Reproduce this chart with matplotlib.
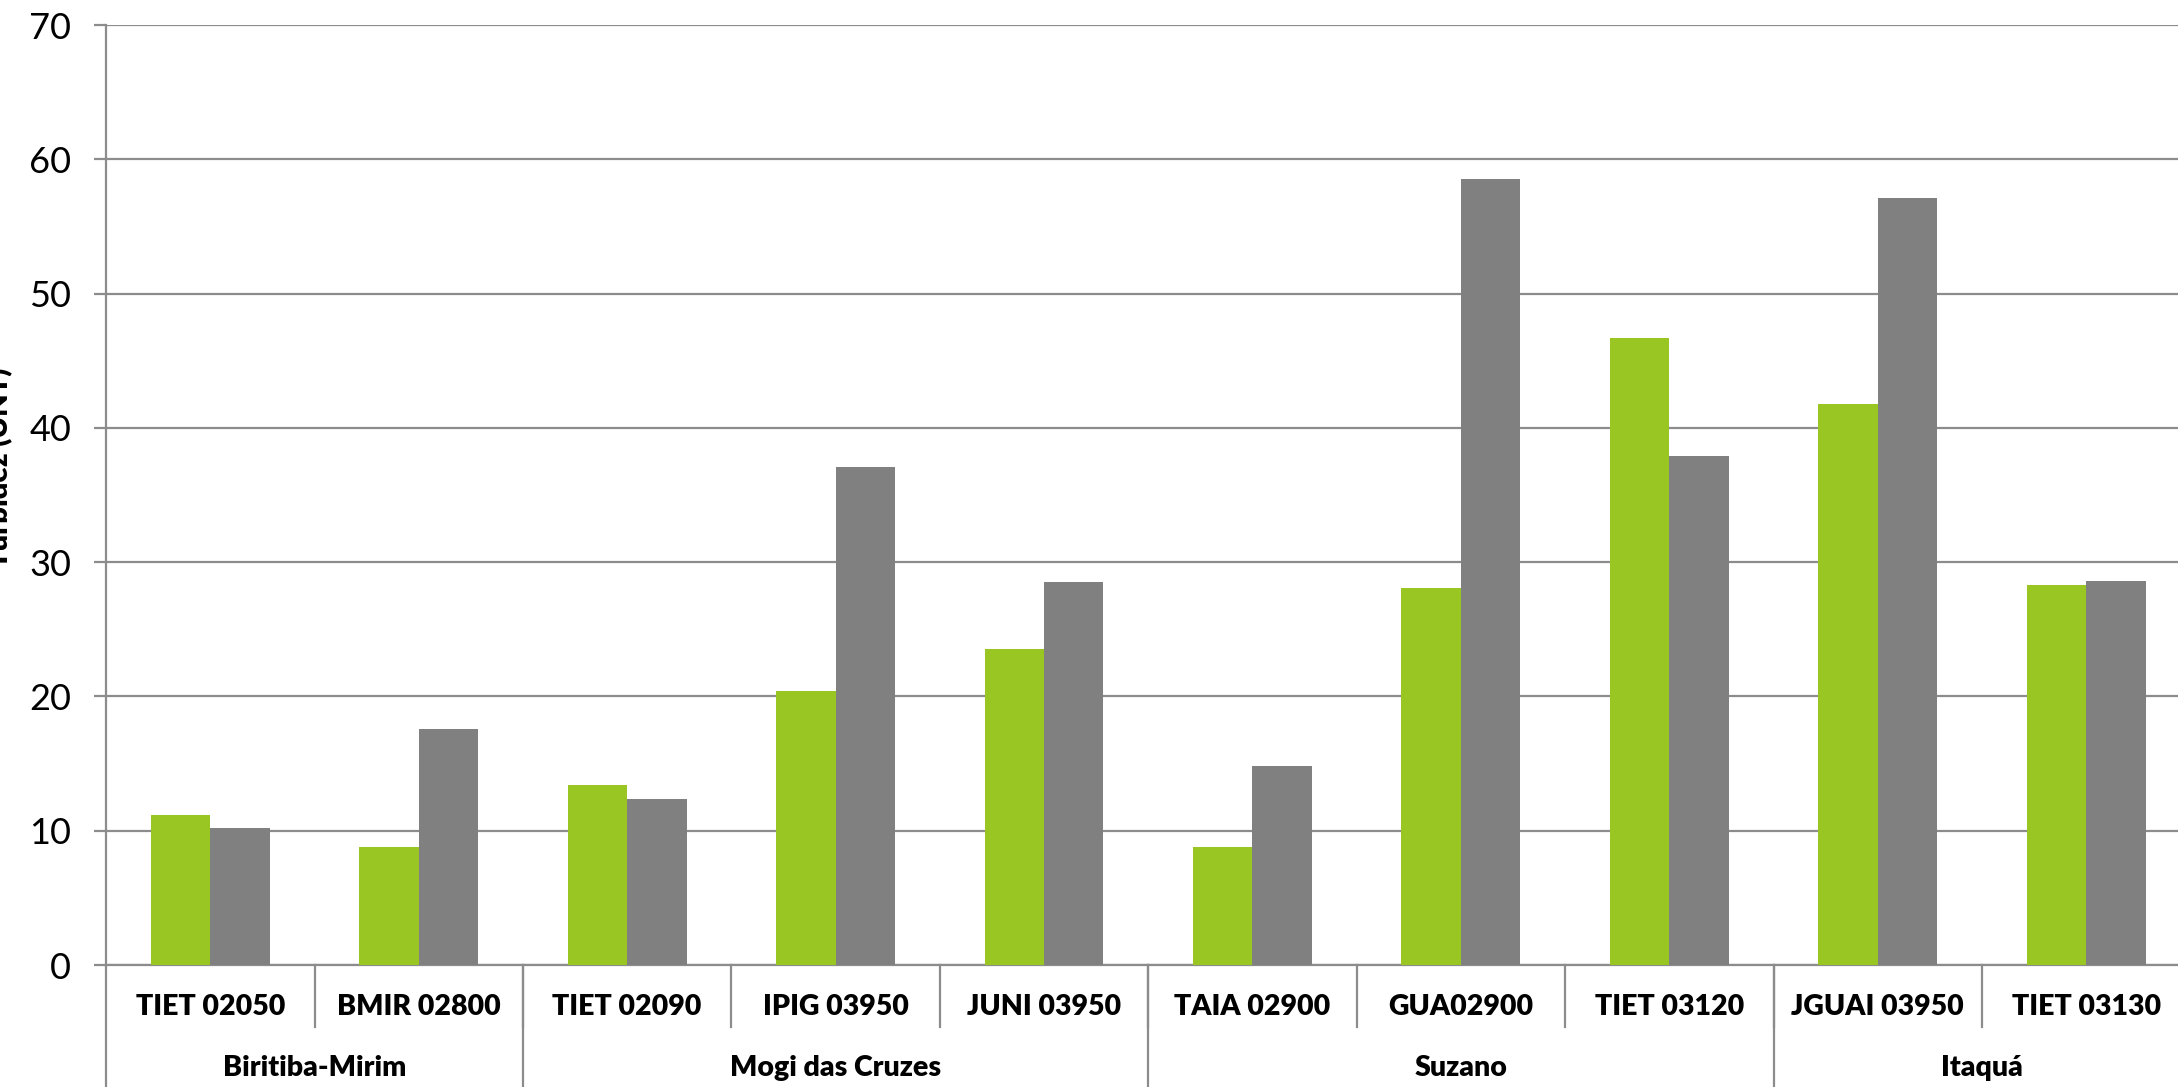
import matplotlib
matplotlib.use("Agg")
from matplotlib import pyplot as plt
from matplotlib import transforms
import numpy as np

# stations, grouped by municipality
stations = ["TIET 02050", "BMIR 02800", "TIET 02090", "IPIG 03950", "JUNI 03950",
            "TAIA 02900", "GUA02900", "TIET 03120", "JGUAI 03950", "TIET 03130"]
groups = ["Biritiba-Mirim", "Mogi das Cruzes", "Suzano", "Itaquá"]
group_sizes = [2, 3, 3, 2]

# turbidity (UNT), two series
green_vals = [11.2, 8.8, 13.4, 20.4, 23.5, 8.8, 28.1, 46.7, 41.8, 28.3]
gray_vals = [10.2, 17.6, 12.4, 37.1, 28.5, 14.8, 58.5, 37.9, 57.1, 28.6]

plt.rcParams['font.family'] = ['Lato', 'DejaVu Sans']

fig = plt.figure(figsize=(21.78, 10.87), dpi=100)
ax = fig.add_axes([0.0487, 0.1122, 0.957, 0.8648])

x = np.arange(len(stations))
w = 0.285
ax.bar(x - w / 2, green_vals, w, color='#9ac623', zorder=3)
ax.bar(x + w / 2, gray_vals, w, color='#808080', zorder=3)

ax.set_xlim(-0.5, len(stations) - 0.5)
ax.set_ylim(0, 70)
ax.set_yticks(range(0, 71, 10))
ax.yaxis.grid(True, color='#8c8c8c', linewidth=1.6, zorder=0)
ax.tick_params(axis='y', labelsize=26, length=9, width=1.6, color='#8c8c8c', pad=16)
ax.set_xticks([])

for s in ['top', 'right']:
    ax.spines[s].set_visible(False)
for s in ['left', 'bottom']:
    ax.spines[s].set_color('#8c8c8c')
    ax.spines[s].set_linewidth(1.6)

trans = transforms.blended_transform_factory(ax.transData, ax.transAxes)

# station labels and short separators
for i, name in enumerate(stations):
    ax.text(i, -0.045, name, transform=trans, ha='center', va='center',
            fontsize=20.5, fontweight='heavy')
    if i > 0:
        ax.plot([i - 0.5, i - 0.5], [0, -0.066], transform=trans, clip_on=False,
                color='#8c8c8c', linewidth=1.6)

# municipality labels and long separators
edges = np.concatenate([[0], np.cumsum(group_sizes)]) - 0.5
for g, name in enumerate(groups):
    ax.text((edges[g] + edges[g + 1]) / 2, -0.11, name, transform=trans,
            ha='center', va='center', fontsize=20.5, fontweight='heavy')
for e in edges:
    ax.plot([e, e], [0, -0.2], transform=trans, clip_on=False,
            color='#8c8c8c', linewidth=1.6)

fig.text(0.006, 0.57, "Turbidez (UNT)", rotation=90, ha='right', va='center',
         fontsize=21, fontweight='heavy')

fig.savefig("out.png", dpi=100)
